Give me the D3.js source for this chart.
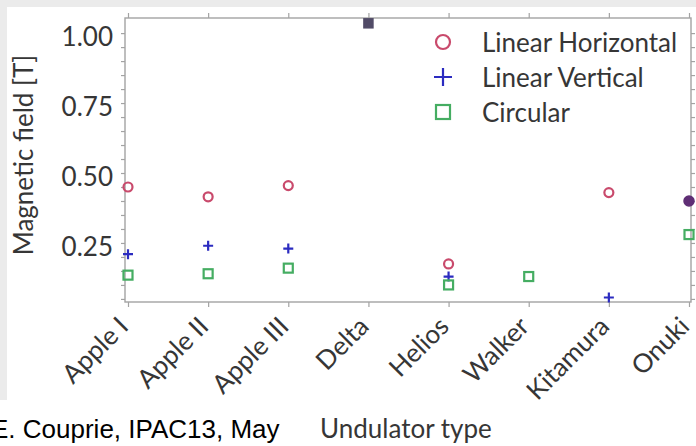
<!DOCTYPE html>
<html>
<head>
<meta charset="utf-8">
<script src="https://cdn.jsdelivr.net/npm/d3@7"></script>
<style>
  html, body { margin: 0; padding: 0; background: #fff; }
  svg { display: block; }
</style>
</head>
<body>
<svg id="chart" width="696" height="446"></svg>
<script>
// Undulator types and peak magnetic field per polarisation mode (tesla)
const categories = ["Apple I", "Apple II", "Apple III", "Delta", "Helios", "Walker", "Kitamura", "Onuki"];
const linearHorizontal = [0.45, 0.415, 0.455, 1.035, 0.175, null, 0.43, 0.40];
const linearVertical   = [0.21, 0.24, 0.23, 1.035, 0.13, null, 0.055, 0.40];
const circular         = [0.135, 0.14, 0.16, 1.035, 0.10, 0.13, null, 0.28];
const yTicks = [0.25, 0.50, 0.75, 1.00];
const seriesNames = ["Linear Horizontal", "Linear Vertical", "Circular"];

const series = [
  { name: seriesNames[0], values: linearHorizontal, shape: "circle", color: "#c94a6c" },
  { name: seriesNames[1], values: linearVertical,   shape: "plus",   color: "#2b2bc0" },
  { name: seriesNames[2], values: circular,         shape: "square", color: "#45ad62" }
];

const svg = d3.select("#chart");
const W = 696, H = 446;
const frame = { left: 125, right: 691, top: 18, bottom: 302 };
const textFont = "Lato, 'Open Sans', sans-serif";
const textColor = "#363636";
const axisColor = "#a3a3a3";

// slide background edges
svg.append("rect").attr("x", 0).attr("y", 0).attr("width", W).attr("height", 7).attr("fill", "#ebebeb");
svg.append("rect").attr("x", 0).attr("y", 0).attr("width", 7).attr("height", 400).attr("fill", "#ebebeb");

const x = d3.scalePoint().domain(categories).range([128, 689]);
const y = d3.scaleLinear().domain([0.039, 1.054]).range([frame.bottom, frame.top]);

// frame
svg.append("rect")
  .attr("x", frame.left).attr("y", frame.top)
  .attr("width", frame.right - frame.left).attr("height", frame.bottom - frame.top)
  .attr("fill", "none").attr("stroke", axisColor).attr("stroke-width", 1.4);

// y axis (left) with labels and minor ticks
const minorTicks = d3.range(0.05, 1.05, 0.05);
const leftAxis = d3.axisLeft(y).tickValues(minorTicks).tickSize(4).tickFormat("");
svg.append("g").attr("transform", `translate(${frame.left},0)`).call(leftAxis)
  .call(g => g.select(".domain").remove())
  .call(g => g.selectAll("line").attr("stroke", axisColor).attr("stroke-width", 1.2));

svg.append("g").selectAll("text").data(yTicks).join("text")
  .attr("x", 113).attr("y", d => y(d) + 4)
  .attr("dy", "0.35em")
  .attr("text-anchor", "end")
  .attr("font-family", textFont).attr("font-size", 26).attr("fill", textColor)
  .text(d => d3.format(".2f")(d));

const rightAxis = d3.axisRight(y).tickValues(minorTicks).tickSize(4).tickFormat("");
svg.append("g").attr("transform", `translate(${frame.right},0)`).call(rightAxis)
  .call(g => g.select(".domain").remove())
  .call(g => g.selectAll("line").attr("stroke", axisColor).attr("stroke-width", 1.2));

// x axis ticks (top and bottom)
const bottomAxis = d3.axisBottom(x).tickSize(5).tickFormat("");
svg.append("g").attr("transform", `translate(0,${frame.bottom})`).call(bottomAxis)
  .call(g => g.select(".domain").remove())
  .call(g => g.selectAll("line").attr("stroke", axisColor).attr("stroke-width", 1.2));
const topAxis = d3.axisTop(x).tickSize(5).tickFormat("");
svg.append("g").attr("transform", `translate(0,${frame.top})`).call(topAxis)
  .call(g => g.select(".domain").remove())
  .call(g => g.selectAll("line").attr("stroke", axisColor).attr("stroke-width", 1.2));

// rotated category labels
svg.append("g").selectAll("text").data(categories).join("text")
  .attr("transform", d => `translate(${x(d) + 2},${frame.bottom + 26}) rotate(-45)`)
  .attr("text-anchor", "end")
  .attr("font-family", textFont).attr("font-size", 26).attr("fill", textColor)
  .text(d => d);

// axis titles
svg.append("text")
  .attr("transform", `translate(33,155) rotate(-90)`)
  .attr("text-anchor", "middle")
  .attr("font-family", textFont).attr("font-size", 26).attr("fill", textColor)
  .text("Magnetic field [T]");

svg.append("text")
  .attr("x", 320).attr("y", 438)
  .attr("font-family", textFont).attr("font-size", 26).attr("fill", textColor)
  .text("Undulator type");

svg.append("text")
  .attr("x", -9).attr("y", 438)
  .attr("font-family", "'Liberation Sans', Arial, sans-serif").attr("font-size", 26).attr("fill", "#000")
  .text("E. Couprie, IPAC13, May");

// marker drawing helper
function drawMarker(g, shape, cx, cy, size, color, sw, filled) {
  if (shape === "circle") {
    g.append("circle").attr("cx", cx).attr("cy", cy).attr("r", size / 2)
      .attr("fill", filled ? color : "none").attr("stroke", color).attr("stroke-width", sw);
  } else if (shape === "square") {
    g.append("rect").attr("x", cx - size / 2).attr("y", cy - size / 2)
      .attr("width", size).attr("height", size)
      .attr("fill", filled ? color : "none").attr("stroke", color).attr("stroke-width", sw);
  } else {
    g.append("path")
      .attr("d", `M${cx - size / 2},${cy}H${cx + size / 2}M${cx},${cy - size / 2}V${cy + size / 2}`)
      .attr("stroke", color).attr("stroke-width", sw).attr("fill", "none");
  }
}

// data points; values shared by several series become one filled marker
const pts = svg.append("g");
categories.forEach((cat, i) => {
  const present = series.filter(s => s.values[i] != null);
  const groups = d3.groups(present, s => s.values[i]);
  groups.forEach(([v, members]) => {
    const cx = x(cat), cy = y(v);
    if (members.length > 1) {
      const enclosing = members.filter(s => s.shape !== "plus");
      const shape = enclosing.length ? enclosing[enclosing.length - 1].shape : "plus";
      const rgb = members.map(s => d3.rgb(s.color));
      const mix = d3.rgb(d3.mean(rgb, c => c.r), d3.mean(rgb, c => c.g), d3.mean(rgb, c => c.b)).darker(0.7);
      drawMarker(pts, shape, cx, cy, shape === "circle" ? 10 : 9, mix.formatHex(), 1.5, true);
    } else {
      const s = members[0];
      const size = s.shape === "plus" ? 10 : 9;
      drawMarker(pts, s.shape, cx, cy, size, s.color, 2.2, false);
    }
  });
});

// legend
const legend = svg.append("g");
series.forEach((s, i) => {
  const cy = 42 + i * 35;
  const size = s.shape === "plus" ? 18 : 14;
  drawMarker(legend, s.shape, 443, cy, size, s.color, 2.2, false);
  legend.append("text")
    .attr("x", 482).attr("y", cy + 5).attr("dy", "0.2em")
    .attr("font-family", textFont).attr("font-size", 26).attr("fill", textColor)
    .text(s.name);
});
</script>
</body>
</html>
